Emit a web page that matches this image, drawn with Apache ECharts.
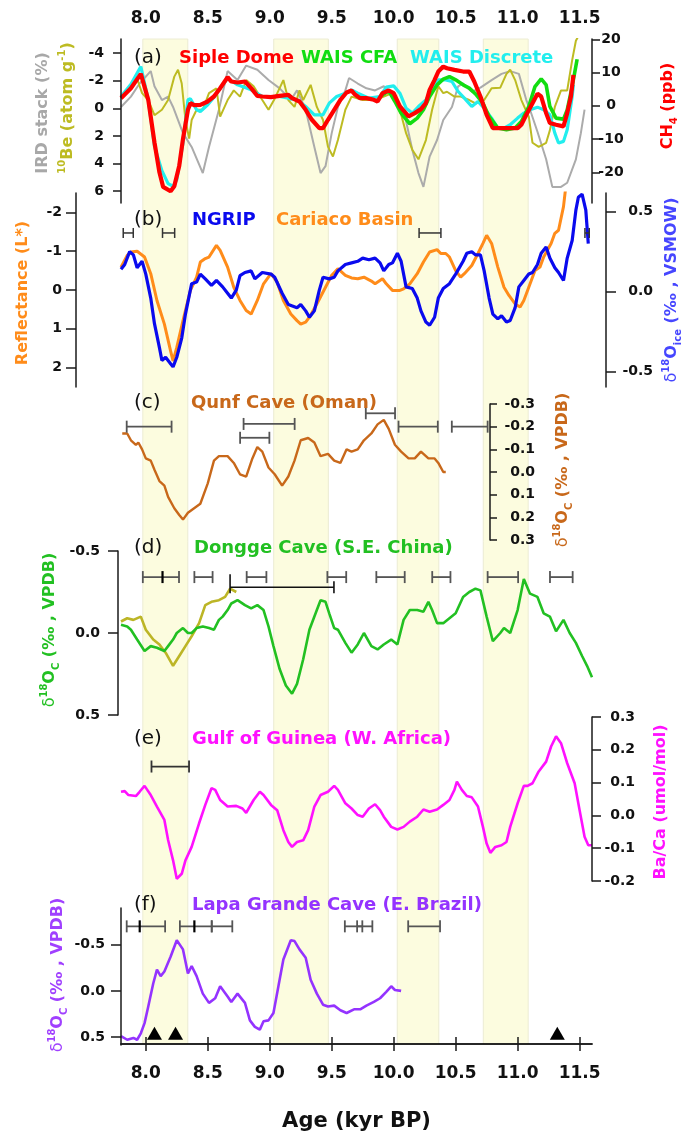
<!DOCTYPE html>
<html><head><meta charset="utf-8">
<script src="https://cdn.jsdelivr.net/npm/echarts@6/dist/echarts.min.js"></script>
<style>html,body{margin:0;padding:0;background:#fff}#c{width:681px;height:1137px}</style>
</head><body><div id="c"></div>
<script>
const X_MIN = 7.8, X_MAX = 11.6;
const ageTicks = [8.0, 8.5, 9.0, 9.5, 10.0, 10.5, 11.0, 11.5];
const bands = [[7.976, 8.339], [9.032, 9.473], [10.029, 10.364], [10.723, 11.085]];

// (a)
const irdTicks = [-4, -2, 0, 2, 4, 6];
const ch4Ticks = [-20, -10, 0, 10, 20];
const irdStack = [[7.80,-0.1],[7.88,-0.85],[7.95,-1.8],[8.04,-2.7],[8.07,-1.6],[8.13,-0.6],[8.18,-0.85],[8.22,-0.1],[8.30,1.8],[8.37,2.8],[8.46,4.7],[8.51,2.8],[8.59,0.1],[8.66,-2.7],[8.74,-2.05],[8.81,-3.1],[8.90,-2.8],[8.99,-2.05],[9.08,-1.45],[9.17,-0.6],[9.22,-1.3],[9.29,0.1],[9.36,2.8],[9.41,4.7],[9.45,4.2],[9.50,1.8],[9.55,-0.1],[9.61,-1.3],[9.64,-2.2],[9.71,-1.8],[9.78,-1.45],[9.85,-1.3],[9.92,-1.6],[9.99,-1.0],[10.08,0.1],[10.15,3.0],[10.20,4.7],[10.24,5.7],[10.29,3.5],[10.35,2.3],[10.40,0.85],[10.47,-0.1],[10.52,-1.6],[10.56,-1.8],[10.63,-1.2],[10.70,-1.5],[10.79,-2.05],[10.87,-2.5],[10.94,-2.7],[11.01,-2.5],[11.07,-0.6],[11.10,0.1],[11.16,1.7],[11.23,3.7],[11.28,5.7],[11.35,5.7],[11.40,5.4],[11.47,3.7],[11.51,1.8],[11.54,0.1]];
const be10 = [[7.80,-0.85],[7.88,-1.6],[7.92,-2.4],[7.97,-1.1],[8.02,-0.6],[8.07,0.5],[8.13,0.1],[8.18,-0.6],[8.23,-2.3],[8.26,-2.8],[8.29,-1.8],[8.32,0.85],[8.35,2.2],[8.37,0.85],[8.41,0.1],[8.46,0.1],[8.51,-1.1],[8.57,-1.45],[8.60,0.6],[8.66,-0.6],[8.71,-1.3],[8.76,-0.85],[8.81,-2.05],[8.87,-1.6],[8.94,-0.6],[8.99,0.1],[9.04,-0.7],[9.11,-2.05],[9.15,-0.6],[9.20,-0.1],[9.24,-1.3],[9.27,-0.6],[9.33,-1.7],[9.38,-0.1],[9.43,0.85],[9.47,2.8],[9.51,3.5],[9.55,2.3],[9.61,0.1],[9.66,-0.85],[9.75,-0.6],[9.85,-0.6],[9.92,-0.85],[9.99,-1.1],[10.05,0.1],[10.10,1.8],[10.15,3.0],[10.20,3.7],[10.26,2.3],[10.31,0.1],[10.36,-1.6],[10.40,-1.1],[10.43,-1.2],[10.49,-0.85],[10.54,-0.85],[10.61,-0.6],[10.66,-0.35],[10.73,-0.6],[10.79,-1.45],[10.86,-1.5],[10.91,-2.5],[10.94,-2.8],[10.98,-2.05],[11.03,-0.6],[11.09,0.6],[11.12,2.5],[11.17,2.8],[11.23,2.5],[11.26,1.6],[11.30,-0.1],[11.35,-1.3],[11.40,-1.3],[11.44,-3.5],[11.47,-4.9],[11.50,-5.4]];
const waisDiscrete = [[7.80,2.8],[7.88,6.5],[7.96,11.8],[8.02,1.8],[8.07,-12.2],[8.13,-19.5],[8.18,-23.4],[8.22,-24.2],[8.25,-22.2],[8.30,-11.2],[8.34,1.8],[8.36,2.1],[8.41,-1.2],[8.44,-1.7],[8.50,0.3],[8.55,2.6],[8.60,5.3],[8.66,8.3],[8.74,6.3],[8.85,4.8],[8.94,2.8],[9.08,2.8],[9.22,1.8],[9.29,-0.2],[9.36,-2.7],[9.43,-2.7],[9.48,0.8],[9.54,2.8],[9.61,3.8],[9.66,4.8],[9.71,3.8],[9.80,2.3],[9.89,2.8],[9.94,5.6],[10.0,6.0],[10.05,3.8],[10.10,-0.7],[10.15,-2.2],[10.20,-0.2],[10.26,1.8],[10.31,4.8],[10.36,7.8],[10.42,7.8],[10.47,7.3],[10.52,4.3],[10.57,2.3],[10.63,-0.2],[10.68,1.3],[10.73,-0.7],[10.79,-3.7],[10.84,-6.7],[10.89,-6.7],[10.94,-5.7],[11.0,-3.7],[11.05,-2.2],[11.10,-1.2],[11.16,-0.4],[11.21,-1.2],[11.26,-2.7],[11.30,-8.2],[11.33,-11.2],[11.37,-10.7],[11.40,-7.2],[11.44,2.8],[11.45,6.3]];
const waisCFA = [[9.90,3.0],[9.96,4.5],[10.01,1.3],[10.06,-2.2],[10.13,-5.4],[10.19,-3.7],[10.24,-1.2],[10.29,2.8],[10.35,6.3],[10.40,8.0],[10.45,8.8],[10.50,7.8],[10.56,6.3],[10.61,5.3],[10.66,3.6],[10.72,0.8],[10.77,-3.2],[10.84,-6.7],[10.91,-7.2],[10.98,-6.7],[11.03,-4.7],[11.09,-0.2],[11.14,5.8],[11.19,8.1],[11.23,6.3],[11.26,-0.2],[11.31,-3.7],[11.37,-4.0],[11.40,-1.2],[11.44,5.8],[11.48,14.0]];
const sipleDome = [[7.80,2.3],[7.88,5.3],[7.96,9.6],[8.02,1.8],[8.07,-11],[8.11,-20],[8.14,-24.4],[8.20,-25.7],[8.23,-24.2],[8.27,-18],[8.30,-10],[8.34,-1.2],[8.36,0.8],[8.39,0.2],[8.44,0.3],[8.50,1.3],[8.55,2.8],[8.60,5.3],[8.66,8.6],[8.69,7.3],[8.74,7],[8.80,7.3],[8.85,5.3],[8.90,3],[8.94,2.8],[9.01,2.6],[9.08,3],[9.15,3.3],[9.18,2.3],[9.24,1.3],[9.29,-1.2],[9.34,-4.2],[9.40,-6.7],[9.43,-6.7],[9.47,-4.2],[9.52,-1.2],[9.57,1.8],[9.62,4],[9.66,4.6],[9.69,3.3],[9.73,2.3],[9.78,2.3],[9.84,1.8],[9.87,1.3],[9.91,3.8],[9.96,4.6],[10.0,3.8],[10.05,-0.2],[10.12,-3.2],[10.17,-2.2],[10.22,-1],[10.26,0.8],[10.29,4.8],[10.33,7.8],[10.36,10.3],[10.40,11.8],[10.43,11.3],[10.49,10.8],[10.56,10.3],[10.61,10.3],[10.65,7.3],[10.70,2.8],[10.75,-2.7],[10.80,-6.7],[10.86,-6.7],[10.93,-6.7],[11.0,-6.7],[11.03,-5.7],[11.07,-2.7],[11.12,0.8],[11.16,3.6],[11.19,2.8],[11.23,-2.2],[11.26,-5.2],[11.31,-5.7],[11.37,-6.2],[11.40,-2.2],[11.43,2.8],[11.45,9.3]];

// (b)
const reflTicks = [-2, -1, 0, 1, 2];
const ngripTicks = [-0.5, 0.0, 0.5];
const cariaco = [[7.80,-0.59],[7.85,-0.89],[7.88,-0.98],[7.93,-1.0],[7.99,-0.85],[8.04,-0.42],[8.09,0.27],[8.15,0.88],[8.20,1.57],[8.22,1.83],[8.25,1.48],[8.30,0.79],[8.36,0.01],[8.41,-0.33],[8.44,-0.72],[8.48,-0.81],[8.51,-0.85],[8.57,-1.15],[8.60,-1.02],[8.66,-0.59],[8.71,-0.07],[8.76,0.27],[8.81,0.53],[8.85,0.62],[8.90,0.27],[8.95,-0.16],[9.01,-0.42],[9.06,-0.2],[9.11,0.27],[9.17,0.62],[9.22,0.79],[9.25,0.88],[9.29,0.83],[9.32,0.7],[9.38,0.36],[9.45,-0.07],[9.50,-0.38],[9.55,-0.55],[9.61,-0.38],[9.66,-0.31],[9.71,-0.29],[9.76,-0.33],[9.82,-0.23],[9.85,-0.16],[9.91,-0.29],[9.94,-0.16],[9.99,0.01],[10.05,0.01],[10.08,-0.03],[10.13,-0.16],[10.19,-0.42],[10.24,-0.72],[10.29,-0.98],[10.35,-1.04],[10.38,-0.94],[10.42,-0.94],[10.45,-0.85],[10.50,-0.5],[10.54,-0.33],[10.57,-0.42],[10.63,-0.63],[10.68,-0.94],[10.72,-1.2],[10.75,-1.41],[10.79,-1.2],[10.84,-0.59],[10.89,-0.07],[10.93,0.14],[10.98,0.36],[11.02,0.44],[11.05,0.27],[11.09,-0.07],[11.14,-0.5],[11.18,-0.59],[11.21,-0.85],[11.27,-1.2],[11.30,-1.46],[11.33,-1.54],[11.37,-2.15],[11.39,-2.7]];
const ngrip = [[7.80,0.14],[7.83,0.17],[7.87,0.25],[7.90,0.23],[7.93,0.15],[7.97,0.19],[8.00,0.11],[8.04,-0.04],[8.07,-0.2],[8.11,-0.35],[8.13,-0.43],[8.16,-0.41],[8.20,-0.45],[8.22,-0.47],[8.25,-0.41],[8.29,-0.29],[8.32,-0.14],[8.37,0.05],[8.41,0.06],[8.44,0.11],[8.48,0.08],[8.53,0.04],[8.57,0.07],[8.62,0.03],[8.66,-0.01],[8.69,-0.04],[8.73,0.01],[8.76,0.1],[8.80,0.12],[8.85,0.13],[8.88,0.08],[8.94,0.12],[9.01,0.11],[9.04,0.09],[9.10,-0.01],[9.15,-0.08],[9.22,-0.1],[9.25,-0.08],[9.29,-0.12],[9.32,-0.16],[9.36,-0.12],[9.40,0.01],[9.43,0.09],[9.48,0.08],[9.52,0.09],[9.55,0.13],[9.61,0.17],[9.66,0.18],[9.71,0.19],[9.75,0.21],[9.80,0.2],[9.85,0.21],[9.89,0.18],[9.92,0.13],[9.96,0.17],[9.99,0.18],[10.03,0.24],[10.06,0.19],[10.10,0.03],[10.15,0.02],[10.19,-0.04],[10.22,-0.12],[10.26,-0.19],[10.29,-0.21],[10.33,-0.16],[10.36,-0.04],[10.40,0.02],[10.45,0.05],[10.50,0.11],[10.56,0.19],[10.59,0.24],[10.63,0.25],[10.66,0.23],[10.70,0.23],[10.73,0.13],[10.77,-0.04],[10.80,-0.14],[10.84,-0.17],[10.87,-0.15],[10.91,-0.19],[10.94,-0.18],[10.98,-0.1],[11.01,0.03],[11.05,0.07],[11.09,0.11],[11.12,0.12],[11.16,0.17],[11.19,0.24],[11.23,0.28],[11.26,0.21],[11.30,0.15],[11.33,0.12],[11.37,0.07],[11.40,0.21],[11.44,0.32],[11.47,0.51],[11.49,0.59],[11.52,0.61],[11.55,0.51],[11.57,0.30]];
const errBarsB = [[7.818,7.899,-1.47],[8.135,8.233,-1.47],[10.205,10.381,-1.47],[11.543,11.578,-1.47]];

// (c)
const qunfTicks = [-0.3, -0.2, -0.1, 0.0, 0.1, 0.2, 0.3];
const qunf = [[7.81,-0.17],[7.85,-0.17],[7.88,-0.14],[7.92,-0.12],[7.94,-0.13],[7.97,-0.1],[8.00,-0.06],[8.04,-0.05],[8.07,-0.01],[8.11,0.04],[8.15,0.06],[8.18,0.11],[8.23,0.16],[8.27,0.19],[8.30,0.21],[8.34,0.18],[8.39,0.16],[8.44,0.14],[8.50,0.05],[8.55,-0.05],[8.59,-0.07],[8.66,-0.07],[8.71,-0.04],[8.76,0.01],[8.81,0.02],[8.86,-0.06],[8.90,-0.11],[8.94,-0.09],[8.99,-0.02],[9.04,0.01],[9.10,0.06],[9.15,0.02],[9.20,-0.05],[9.25,-0.14],[9.31,-0.15],[9.36,-0.13],[9.41,-0.07],[9.47,-0.08],[9.52,-0.05],[9.57,-0.04],[9.62,-0.1],[9.66,-0.09],[9.71,-0.1],[9.76,-0.14],[9.82,-0.17],[9.87,-0.21],[9.92,-0.23],[9.96,-0.19],[10.01,-0.12],[10.06,-0.09],[10.12,-0.06],[10.17,-0.06],[10.22,-0.09],[10.28,-0.06],[10.33,-0.06],[10.36,-0.04],[10.40,0.0],[10.42,0.0]];
const errBarsC = [[7.846,8.208,-0.2],[8.789,9.201,-0.212],[8.761,8.997,-0.151],[9.775,10.011,-0.259],[10.039,10.356,-0.2],[10.469,10.758,-0.2]];

// (d)
const donggeTicks = [-0.5, 0.0, 0.5];
const dongge = [[7.80,-0.05],[7.85,-0.04],[7.88,-0.02],[7.93,0.04],[7.99,0.11],[8.04,0.08],[8.09,0.09],[8.15,0.11],[8.18,0.08],[8.22,0.04],[8.25,0.0],[8.30,-0.03],[8.34,0.0],[8.37,0.0],[8.41,-0.03],[8.46,-0.04],[8.51,-0.03],[8.55,-0.02],[8.59,-0.08],[8.62,-0.1],[8.66,-0.14],[8.69,-0.18],[8.74,-0.2],[8.80,-0.17],[8.85,-0.15],[8.90,-0.17],[8.95,-0.14],[8.99,-0.04],[9.03,0.08],[9.08,0.22],[9.13,0.32],[9.18,0.37],[9.22,0.31],[9.27,0.16],[9.32,-0.02],[9.38,-0.14],[9.41,-0.2],[9.45,-0.19],[9.48,-0.12],[9.52,-0.03],[9.55,-0.02],[9.61,0.06],[9.66,0.12],[9.71,0.07],[9.76,0.0],[9.82,0.08],[9.87,0.1],[9.92,0.07],[9.98,0.04],[10.03,0.07],[10.08,-0.08],[10.13,-0.14],[10.19,-0.14],[10.24,-0.13],[10.28,-0.19],[10.31,-0.14],[10.35,-0.06],[10.40,-0.06],[10.45,-0.09],[10.50,-0.12],[10.56,-0.22],[10.61,-0.25],[10.66,-0.27],[10.70,-0.26],[10.75,-0.1],[10.80,0.05],[10.86,0.0],[10.89,-0.03],[10.94,0.0],[11.00,-0.14],[11.05,-0.33],[11.10,-0.24],[11.16,-0.22],[11.21,-0.12],[11.26,-0.1],[11.31,-0.01],[11.37,-0.08],[11.42,0.0],[11.47,0.06],[11.52,0.14],[11.56,0.2],[11.60,0.27]];
const donggeOlive = [[7.80,-0.07],[7.85,-0.09],[7.90,-0.08],[7.96,-0.1],[8.00,-0.02],[8.06,0.04],[8.11,0.07],[8.16,0.12],[8.22,0.2],[8.27,0.14],[8.32,0.08],[8.37,0.02],[8.43,-0.06],[8.48,-0.17],[8.53,-0.19],[8.59,-0.2],[8.64,-0.22],[8.68,-0.27],[8.73,-0.25]];
const errBarsD = [[7.976,8.268,-0.341,8.135],[8.392,8.539,-0.341],[8.814,8.973,-0.341],[9.465,9.617,-0.341],[9.860,10.089,-0.341],[10.311,10.458,-0.341],[10.758,11.004,-0.341],[11.261,11.444,-0.341]];
const errBarsDLong = [[8.680,9.518,-0.279]];

// (e)
const baTicks = [-0.2, -0.1, 0.0, 0.1, 0.2, 0.3];
const gulfGuinea = [[7.80,0.072],[7.83,0.074],[7.86,0.062],[7.92,0.059],[7.95,0.072],[7.99,0.09],[8.04,0.062],[8.09,0.027],[8.15,-0.014],[8.18,-0.075],[8.22,-0.137],[8.25,-0.193],[8.29,-0.178],[8.32,-0.137],[8.37,-0.096],[8.43,-0.024],[8.48,0.032],[8.53,0.083],[8.56,0.078],[8.60,0.047],[8.66,0.027],[8.73,0.029],[8.78,0.021],[8.81,0.008],[8.87,0.047],[8.92,0.072],[8.95,0.062],[9.01,0.032],[9.06,0.016],[9.11,-0.045],[9.15,-0.081],[9.18,-0.096],[9.22,-0.081],[9.27,-0.076],[9.31,-0.045],[9.36,0.027],[9.41,0.062],[9.47,0.072],[9.52,0.09],[9.55,0.078],[9.61,0.037],[9.66,0.021],[9.71,0.001],[9.75,-0.004],[9.80,0.021],[9.85,0.034],[9.89,0.016],[9.92,-0.004],[9.98,-0.035],[10.03,-0.043],[10.08,-0.035],[10.13,-0.019],[10.19,-0.004],[10.24,0.018],[10.29,0.011],[10.35,0.018],[10.40,0.032],[10.45,0.047],[10.49,0.078],[10.51,0.103],[10.55,0.078],[10.59,0.059],[10.63,0.055],[10.68,0.027],[10.72,-0.035],[10.75,-0.086],[10.78,-0.114],[10.82,-0.096],[10.87,-0.091],[10.91,-0.081],[10.94,-0.035],[11.00,0.037],[11.05,0.09],[11.08,0.09],[11.12,0.098],[11.17,0.134],[11.23,0.164],[11.27,0.21],[11.31,0.241],[11.35,0.22],[11.40,0.159],[11.46,0.098],[11.50,0.016],[11.54,-0.065],[11.57,-0.091],[11.60,-0.091]];
const errBarsE = [[8.046,8.349,0.149]];

// (f)
const lapaTicks = [-0.5, 0.0, 0.5];
const lapaGrande = [[7.80,0.49],[7.85,0.53],[7.90,0.51],[7.93,0.53],[7.96,0.46],[7.99,0.35],[8.02,0.17],[8.06,-0.08],[8.09,-0.23],[8.12,-0.16],[8.15,-0.21],[8.20,-0.37],[8.25,-0.55],[8.30,-0.45],[8.34,-0.19],[8.37,-0.27],[8.41,-0.16],[8.46,0.03],[8.51,0.13],[8.56,0.08],[8.60,-0.05],[8.66,0.06],[8.69,0.12],[8.74,0.03],[8.80,0.13],[8.84,0.32],[8.88,0.39],[8.92,0.42],[8.95,0.33],[8.99,0.32],[9.03,0.24],[9.07,-0.05],[9.11,-0.34],[9.17,-0.55],[9.20,-0.54],[9.24,-0.45],[9.29,-0.36],[9.33,-0.12],[9.38,0.03],[9.43,0.15],[9.47,0.17],[9.52,0.16],[9.57,0.21],[9.62,0.24],[9.68,0.2],[9.73,0.2],[9.78,0.16],[9.84,0.12],[9.89,0.08],[9.94,0.01],[9.98,-0.05],[10.01,-0.01],[10.06,0.0]];
const errBarsF = [[7.846,8.156,-0.70,7.951],[8.275,8.532,-0.70,8.392],[8.532,8.698,-0.70],[9.606,9.747,-0.70],[9.705,9.828,-0.70],[10.117,10.374,-0.70]];
const lapaTriangles = [[8.07,0.46],[8.24,0.46],[11.32,0.46]];

const F = 'DejaVu Sans';
const AX = '#1a1a1a';
const L = 121, R = 681 - 592;

const grids = [
  {left: L, right: R, top: 39, bottom: 1137 - 1045},
  {left: L, right: R, top: 39, height: 164},
  {left: L, right: R, top: 193, height: 194},
  {left: L, right: R, top: 404, height: 136},
  {left: L, right: R, top: 551, height: 164},
  {left: L, right: R, top: 717, height: 164},
  {left: L, right: R, top: 908, height: 137}
];

const xLabel = {customValues: ageTicks, formatter: v => v.toFixed(1), fontFamily: F, fontWeight: 'bold', fontSize: 17, color: '#111'};
const xTick = {show: true, customValues: ageTicks, length: 7, lineStyle: {color: AX, width: 1.5}};
const xAxes = [
  {gridIndex: 0, type: 'value', min: X_MIN, max: X_MAX, position: 'top', z: 5,
   axisLine: {show: true, lineStyle: {color: AX, width: 1.5}}, axisTick: xTick,
   axisLabel: Object.assign({margin: 12}, xLabel), splitLine: {show: false}},
  {gridIndex: 0, type: 'value', min: X_MIN, max: X_MAX, position: 'bottom', z: 5,
   axisLine: {show: true, lineStyle: {color: AX, width: 1.5}}, axisTick: xTick,
   axisLabel: Object.assign({margin: 21}, xLabel), splitLine: {show: false},
   name: 'Age (kyr BP)', nameLocation: 'middle', nameGap: 67,
   nameTextStyle: {fontFamily: F, fontWeight: 'bold', fontSize: 21, color: '#111'}}
];
for (let g = 1; g <= 6; g++) xAxes.push({gridIndex: g, type: 'value', min: X_MIN, max: X_MAX, show: false});

function yAx(o) {
  const fmt = o.fmt || (v => String(v));
  return {
    gridIndex: o.grid, type: 'value', min: o.min, max: o.max, inverse: !!o.inverse,
    position: o.pos, offset: o.offset || 0, z: 5,
    axisLine: {show: true, onZero: false, lineStyle: {color: AX, width: 1.5}},
    axisTick: {show: true, customValues: o.ticks, length: o.tickLen || 9, lineStyle: {color: AX, width: 1.5}},
    axisLabel: {customValues: o.ticks, formatter: fmt, fontFamily: F, fontWeight: 'bold', fontSize: 14,
                color: '#111', margin: o.margin, align: o.align},
    splitLine: {show: false}
  };
}
const f1 = v => v.toFixed(1);
const yAxes = [
  {gridIndex: 0, type: 'value', min: 0, max: 1, show: false},
  yAx({grid: 1, pos: 'left', min: -5.03, max: 6.87, inverse: true, ticks: irdTicks, margin: 17, tickLen: 8}),
  yAx({grid: 1, pos: 'right', min: -29.23, max: 20.09, ticks: ch4Ticks, margin: 19, align: 'center', tickLen: 8}),
  yAx({grid: 2, pos: 'left', offset: 45, min: -2.5, max: 2.5, inverse: true, ticks: reflTicks, margin: 14, tickLen: 10}),
  yAx({grid: 2, pos: 'right', offset: 14, min: -0.596, max: 0.617, ticks: ngripTicks, fmt: f1, margin: 47, align: 'right', tickLen: 10}),
  yAx({grid: 3, pos: 'right', offset: -102, min: -0.3, max: 0.3, inverse: true, ticks: qunfTicks, fmt: f1, margin: 45, align: 'right', tickLen: 7}),
  yAx({grid: 4, pos: 'left', offset: 3, min: -0.5, max: 0.5, inverse: true, ticks: donggeTicks, fmt: f1, margin: 18, tickLen: 10}),
  yAx({grid: 5, pos: 'right', min: -0.2, max: 0.3, ticks: baTicks, fmt: f1, margin: 43, align: 'right', tickLen: 9}),
  yAx({grid: 6, pos: 'left', min: -0.899, max: 0.587, inverse: true, ticks: lapaTicks, fmt: f1, margin: 16, tickLen: 10})
];

function line(name, data, xi, yi, color, width, z) {
  return {name, type: 'line', data, xAxisIndex: xi, yAxisIndex: yi, showSymbol: false, symbol: 'none',
          lineStyle: {color, width}, itemStyle: {color}, z: z || 3, silent: true, clip: true};
}
function errBars(data, xi, yi, color, width, capH, capTop) {
  return {type: 'custom', data, xAxisIndex: xi, yAxisIndex: yi, z: 4, silent: true,
    encode: {x: [0, 1], y: 2},
    renderItem: (params, api) => {
      const y = api.value(2);
      const p0 = api.coord([api.value(0), y]);
      const p1 = api.coord([api.value(1), y]);
      const st = {stroke: color, lineWidth: width};
      const ch = [
        {type: 'line', shape: {x1: p0[0], y1: p0[1], x2: p1[0], y2: p1[1]}, style: st},
        {type: 'line', shape: {x1: p0[0], y1: p0[1] - (capTop || capH), x2: p0[0], y2: p0[1] + capH}, style: st},
        {type: 'line', shape: {x1: p1[0], y1: p1[1] - capH, x2: p1[0], y2: p1[1] + capH}, style: st}
      ];
      const m = api.value(3);
      if (!isNaN(m) && m !== null) {
        const pm = api.coord([m, y]);
        ch.push({type: 'line', shape: {x1: pm[0], y1: pm[1] - capH, x2: pm[0], y2: pm[1] + capH}, style: {stroke: '#000', lineWidth: 2.2}});
      }
      return {type: 'group', children: ch};
    }};
}

const series = [
  {type: 'custom', data: bands, xAxisIndex: 0, yAxisIndex: 0, z: 1, silent: true, encode: {x: [0, 1]},
   renderItem: (params, api) => {
     const a = api.coord([api.value(0), 1]);
     const b = api.coord([api.value(1), 0]);
     return {type: 'rect', shape: {x: a[0], y: a[1], width: b[0] - a[0], height: b[1] - a[1]},
             style: {fill: '#fcfcdf', stroke: '#ececd4', lineWidth: 1}};
   }},
  // (a)
  line('IRD stack', irdStack, 2, 1, '#ababab', 2),
  line('10Be', be10, 2, 1, '#bdbb22', 2),
  line('WAIS Discrete', waisDiscrete, 2, 2, '#22eeee', 3.2),
  line('WAIS CFA', waisCFA, 2, 2, '#11dd11', 3.6),
  line('Siple Dome', sipleDome, 2, 2, '#ff0000', 4.2),
  // (b)
  line('Cariaco Basin', cariaco, 3, 3, '#ff8c1a', 3),
  line('NGRIP', ngrip, 3, 4, '#0a0aee', 3.2),
  errBars(errBarsB, 3, 3, '#333', 1.5, 5),
  // (c)
  line('Qunf Cave', qunf, 4, 5, '#c8681a', 2.4),
  errBars(errBarsC, 4, 5, '#555', 1.8, 6),
  // (d)
  line('Dongge olive', donggeOlive, 5, 6, '#bcb526', 2.6),
  line('Dongge Cave', dongge, 5, 6, '#22c022', 2.6),
  errBars(errBarsD, 5, 6, '#555', 1.8, 6),
  errBars(errBarsDLong, 5, 6, '#111', 1.6, 6, 13),
  // (e)
  line('Gulf of Guinea', gulfGuinea, 6, 7, '#ff11ff', 2.6),
  errBars(errBarsE, 6, 7, '#333', 1.8, 6),
  // (f)
  line('Lapa Grande Cave', lapaGrande, 7, 8, '#9433ff', 2.6),
  errBars(errBarsF, 7, 8, '#555', 1.8, 6),
  {type: 'scatter', data: lapaTriangles, xAxisIndex: 7, yAxisIndex: 8, symbol: 'triangle', symbolSize: [15, 13],
   itemStyle: {color: '#000', opacity: 1}, z: 4, silent: true}
];

// text helpers
function rich(size, color) {
  const s = Math.round(size * 0.62);
  return {
    n: {fontSize: size, fontFamily: F, fontWeight: 'bold', fill: color, lineHeight: size + 6},
    d: {fontSize: size, fontFamily: F, fontWeight: 'normal', fill: color, lineHeight: size + 6},
    sup: {fontSize: s, fontFamily: F, fontWeight: 'bold', fill: color, verticalAlign: 'top', lineHeight: s + 1},
    sub: {fontSize: s, fontFamily: F, fontWeight: 'bold', fill: color, verticalAlign: 'bottom', lineHeight: s + 1}
  };
}
function vtext(x, y, text, color, size) {
  return {type: 'text', x, y, rotation: Math.PI / 2, silent: true, z: 100, zlevel: 0,
          style: {text, rich: rich(size, color), fill: color, align: 'center', verticalAlign: 'middle',
                  textAlign: 'center', textVerticalAlign: 'middle'}};
}
function htext(x, y, text, color, size, weight) {
  return {type: 'text', x, y, silent: true, z: 100, zlevel: 0,
          style: {text, fill: color, fontSize: size, fontFamily: F, fontWeight: weight || 'bold',
                  align: 'left', verticalAlign: 'middle', textAlign: 'left', textVerticalAlign: 'middle'}};
}
const dO = '{d|δ}{sup|18}{n|O}';
const graphics = [
  htext(134, 58, '(a)', '#111', 20, 'normal'),
  htext(179, 58, 'Siple Dome', '#ff0000', 18),
  htext(301, 58, 'WAIS CFA', '#11dd11', 18),
  htext(410, 58, 'WAIS Discrete', '#22eeee', 18),
  htext(134, 220, '(b)', '#111', 20, 'normal'),
  htext(192, 220, 'NGRIP', '#0a0aee', 18),
  htext(276, 220, 'Cariaco Basin', '#ff8c1a', 18),
  htext(134, 403, '(c)', '#111', 20, 'normal'),
  htext(191, 403, 'Qunf Cave (Oman)', '#c8681a', 18),
  htext(134, 548, '(d)', '#111', 20, 'normal'),
  htext(194, 548, 'Dongge Cave (S.E. China)', '#22c022', 18),
  htext(134, 739, '(e)', '#111', 20, 'normal'),
  htext(192, 739, 'Gulf of Guinea (W. Africa)', '#ff11ff', 18),
  htext(134, 905, '(f)', '#111', 20, 'normal'),
  htext(192, 905, 'Lapa Grande Cave (E. Brazil)', '#9433ff', 18),
  vtext(43, 113, '{n|IRD stack (%)}', '#a8a8a8', 16),
  vtext(68, 108, '{sup|10}{n|Be (atom g}{sup|-1}{n|)}', '#bdbb22', 16),
  vtext(668, 106, '{n|CH}{sub|4}{n| (ppb)}', '#ff0000', 16),
  vtext(23, 293, '{n|Reflectance (L*)}', '#ff8c1a', 16),
  vtext(672, 290, dO + '{sub|ice}{n| (‰ , VSMOW)}', '#4646ff', 16),
  vtext(563, 470, dO + '{sub|C}{n| (‰ , VPDB)}', '#c8681a', 16),
  vtext(50, 630, dO + '{sub|C}{n| (‰ , VPDB)}', '#22c022', 16),
  vtext(661, 802, '{n|Ba/Ca (umol/mol)}', '#ff11ff', 16),
  vtext(58, 975, dO + '{sub|C}{n| (‰ , VPDB)}', '#a040ff', 16)
];

const chart = echarts.init(document.getElementById('c'), null, {renderer: 'canvas'});
chart.setOption({
  animation: false,
  backgroundColor: '#ffffff',
  grid: grids,
  xAxis: xAxes,
  yAxis: yAxes,
  series,
  graphic: {elements: graphics}
});
</script>
</body></html>
